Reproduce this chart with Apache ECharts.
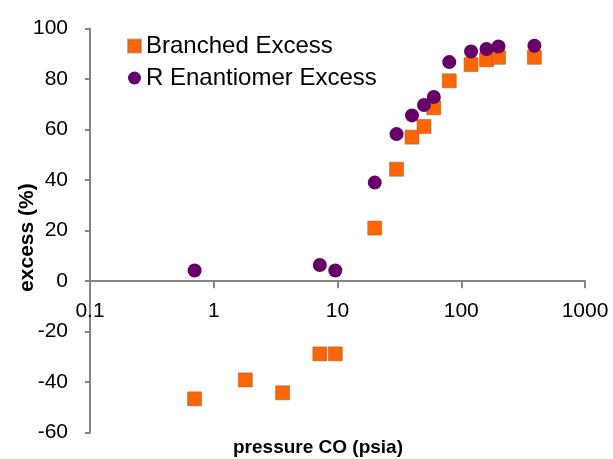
<!DOCTYPE html>
<html>
<head>
<meta charset="utf-8">
<script src="https://cdn.jsdelivr.net/npm/echarts@6/dist/echarts.min.js"></script>
<style>html,body{margin:0;padding:0;background:#fff;}#c{width:613px;height:459px;}</style>
</head>
<body>
<div id="c"></div>
<script>
var branchedPressure = [0.7, 1.8, 3.6, 7.2, 9.6, 20, 30, 40, 50, 60, 80, 120, 160, 200, 390];
var branchedExcess = [-46.6, -39.1, -44.2, -28.8, -28.8, 21, 44.3, 57, 61.2, 68.6, 79.3, 85.7, 87.6, 88.6, 88.6];
var rPressure = [0.7, 7.2, 9.6, 20, 30, 40, 50, 60, 80, 120, 160, 200, 390];
var rExcess = [4.2, 6.4, 4.2, 39.0, 58.2, 65.6, 69.7, 72.9, 86.7, 90.9, 91.9, 92.9, 93.2];
var seriesNames = ['Branched Excess', 'R Enantiomer Excess'];
var xTitle = 'pressure CO (psia)';
var yTitle = 'excess (%)';

function pairs(xs, ys) { return xs.map(function (x, i) { return [x, ys[i]]; }); }

var FONT = "'Liberation Sans', Arial, sans-serif";
var AXIS = '#868686';
var W = 613, H = 459, GT = 28.5, GB = 26.3;
var YMIN = -60, YMAX = 100;
// distance (px) from grid bottom up to the y = 0 line
var zeroOffset = (H - GT - GB) * (0 - YMIN) / (YMAX - YMIN);

var chart = echarts.init(document.getElementById('c'), null, { renderer: 'canvas' });
chart.setOption({
  animation: false,
  backgroundColor: '#fff',
  textStyle: { fontFamily: FONT },
  grid: { left: 90, right: 28, top: GT, bottom: GB, containLabel: false, outerBoundsMode: 'none' },
  legend: {
    orient: 'vertical', left: 127, top: 34, padding: 0,
    itemWidth: 13, itemHeight: 13, itemGap: 8, itemTextGap: 9,
    textStyle: { fontFamily: FONT, fontSize: 24, color: '#000' },
    data: seriesNames
  },
  xAxis: [{
    type: 'log', logBase: 10, min: 0.1, max: 1000, position: 'bottom', offset: -zeroOffset,
    axisLine: { onZero: false, lineStyle: { color: AXIS, width: 2 } },
    axisTick: { show: true, length: 7, lineStyle: { color: AXIS, width: 2 } },
    minorTick: { show: false },
    splitLine: { show: false },
    axisLabel: {
      fontFamily: FONT, fontSize: 21, color: '#000', margin: 20, hideOverlap: false,
      formatter: function (v) { return String(Number(v.toPrecision(3))); }
    }
  }, {
    type: 'log', logBase: 10, min: 0.1, max: 1000, position: 'bottom',
    axisLine: { show: false, onZero: false },
    axisTick: { show: false }, axisLabel: { show: false }, splitLine: { show: false },
    name: xTitle, nameLocation: 'middle', nameGap: 6, nameMoveOverlap: false,
    nameTextStyle: { fontFamily: FONT, fontSize: 19, fontWeight: 'bold', color: '#000', padding: [0, 39, 0, 0] }
  }],
  yAxis: {
    type: 'value', min: YMIN, max: YMAX, interval: 20,
    axisLine: { show: true, lineStyle: { color: AXIS, width: 2 } },
    axisTick: { show: true, length: 5, lineStyle: { color: AXIS, width: 2 } },
    splitLine: { show: false },
    axisLabel: { fontFamily: FONT, fontSize: 21, color: '#000', margin: 22 },
    name: yTitle, nameLocation: 'middle', nameGap: 52, nameRotate: 90, nameMoveOverlap: false,
    nameTextStyle: { fontFamily: FONT, fontSize: 21, fontWeight: 'bold', color: '#000', padding: [0, 14, 0, 0] }
  },
  series: [{
    name: seriesNames[0], type: 'scatter', xAxisIndex: 0,
    symbol: 'rect', symbolSize: 14,
    itemStyle: { color: '#FF6600', opacity: 1, borderColor: 'rgba(150,100,70,0.55)', borderWidth: 1 },
    data: pairs(branchedPressure, branchedExcess)
  }, {
    name: seriesNames[1], type: 'scatter', xAxisIndex: 0,
    symbol: 'circle', symbolSize: 14,
    itemStyle: { color: '#660066', opacity: 1 },
    data: pairs(rPressure, rExcess)
  }]
});
</script>
</body>
</html>
